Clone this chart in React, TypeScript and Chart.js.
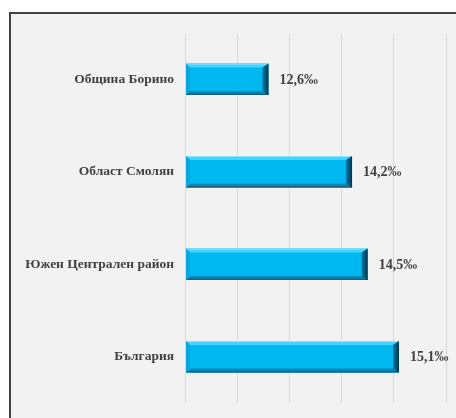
import React, { useEffect, useRef } from "react";
import { Chart, registerables } from "chart.js";

Chart.register(...registerables);

const categories = ["Община Борино", "Област Смолян", "Южен Централен район", "България"];
const values = [12.6, 14.2, 14.5, 15.1];
const valueLabels = ["12,6‰", "14,2‰", "14,5‰", "15,1‰"];
const axisMin = 11;
const axisMax = 16;

const FONT = "'Times New Roman', 'Liberation Serif', serif";

const framePlugin = {
  id: "frame",
  beforeDraw(chart: any) {
    const ctx = chart.ctx;
    ctx.save();
    ctx.fillStyle = "#ffffff";
    ctx.fillRect(0, 0, chart.width, chart.height);
    ctx.fillStyle = "#f2f2f2";
    ctx.fillRect(11, 14, chart.width - 11, chart.height - 14);
    ctx.fillStyle = "#404040";
    ctx.fillRect(9, 12, 2, chart.height - 12);
    ctx.fillRect(9, 12, chart.width - 9, 2);
    ctx.restore();
  },
};

const bevelPlugin = {
  id: "bevel",
  afterDatasetsDraw(chart: any) {
    const ctx = chart.ctx;
    const meta = chart.getDatasetMeta(0);
    ctx.save();
    meta.data.forEach((bar: any, i: number) => {
      const left = Math.max(bar.base, chart.chartArea.left) + 1;
      const right = bar.x;
      const top = bar.y - bar.height / 2;
      const bottom = bar.y + bar.height / 2;
      const b = 4;
      const rb = 6;
      ctx.fillStyle = "#00b8f0";
      ctx.fillRect(left, top, right - left, bottom - top);
      // top bevel
      ctx.fillStyle = "#45d3ff";
      ctx.beginPath();
      ctx.moveTo(left, top);
      ctx.lineTo(right, top);
      ctx.lineTo(right - rb, top + b);
      ctx.lineTo(left + b, top + b);
      ctx.closePath();
      ctx.fill();
      ctx.fillStyle = "#8ae6ff";
      ctx.fillRect(left, top, right - left, 1);
      // bottom bevel
      ctx.fillStyle = "#0089b8";
      ctx.beginPath();
      ctx.moveTo(left, bottom);
      ctx.lineTo(right, bottom);
      ctx.lineTo(right - rb, bottom - b);
      ctx.lineTo(left + b, bottom - b);
      ctx.closePath();
      ctx.fill();
      ctx.fillStyle = "#1a5f80";
      ctx.fillRect(left, bottom - 1.5, right - left, 1.5);
      // left bevel
      ctx.fillStyle = "#0aa6dc";
      ctx.beginPath();
      ctx.moveTo(left, top);
      ctx.lineTo(left + b, top + b);
      ctx.lineTo(left + b, bottom - b);
      ctx.lineTo(left, bottom);
      ctx.closePath();
      ctx.fill();
      // right bevel
      const g = ctx.createLinearGradient(right - rb, 0, right, 0);
      g.addColorStop(0, "#007aa6");
      g.addColorStop(1, "#00354d");
      ctx.fillStyle = g;
      ctx.beginPath();
      ctx.moveTo(right, top);
      ctx.lineTo(right - rb, top + b);
      ctx.lineTo(right - rb, bottom - b);
      ctx.lineTo(right, bottom);
      ctx.closePath();
      ctx.fill();
      // value label
      ctx.fillStyle = "#404040";
      ctx.font = `bold 14px ${FONT}`;
      ctx.textAlign = "left";
      ctx.textBaseline = "middle";
      ctx.fillText(valueLabels[i], right + 11, bar.y + 1);
    });
    ctx.restore();
  },
};

export default function App() {
  const ref = useRef<HTMLCanvasElement>(null);
  useEffect(() => {
    document.body.style.margin = "0";
    const chart = new Chart(ref.current!, {
      type: "bar",
      data: {
        labels: categories,
        datasets: [
          {
            data: values,
            backgroundColor: "rgba(0,0,0,0)",
            borderWidth: 0,
            categoryPercentage: 1,
            barPercentage: 0.34,
          },
        ],
      },
      options: {
        indexAxis: "y",
        responsive: false,
        animation: false,
        layout: { padding: { top: 33, bottom: 15, right: 10, left: 0 } },
        plugins: { legend: { display: false }, tooltip: { enabled: false } },
        scales: {
          x: {
            min: axisMin,
            max: axisMax,
            ticks: { display: false, stepSize: 1 },
            grid: { color: "#d9d9d9", drawTicks: false, lineWidth: 1 },
            border: { display: false },
            afterFit: (scale: any) => {
              scale.height = 0;
              scale.paddingLeft = 0;
              scale.paddingRight = 0;
            },
          },
          y: {
            ticks: {
              color: "#404040",
              padding: 11,
              font: { family: FONT, size: 13.5, weight: "bold" },
            },
            grid: { display: false, drawTicks: false },
            border: { display: false },
            afterFit: (scale: any) => {
              scale.width = 185;
              scale.paddingTop = 0;
              scale.paddingBottom = 0;
            },
          },
        },
      },
      plugins: [framePlugin, bevelPlugin],
    });
    return () => chart.destroy();
  }, []);
  return (
    <div style={{ position: "fixed", left: 0, top: 0, width: 456, height: 418 }}>
      <canvas ref={ref} width={456} height={418} />
    </div>
  );
}
